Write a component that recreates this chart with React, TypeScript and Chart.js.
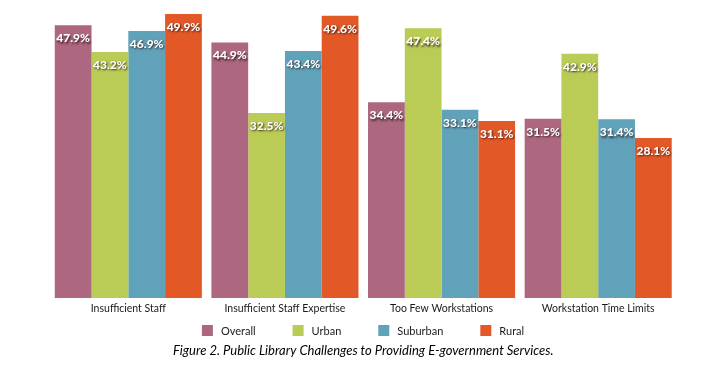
import React, { useEffect, useRef } from "react";
import { Chart, registerables } from "chart.js";
Chart.register(...registerables);

const categories = [
  "Insufficient Staff",
  "Insufficient Staff Expertise",
  "Too Few Workstations",
  "Workstation Time Limits",
];
const seriesNames = ["Overall", "Urban", "Suburban", "Rural"];
const overall = [47.9, 44.9, 34.4, 31.5];
const urban = [43.2, 32.5, 47.4, 42.9];
const suburban = [46.9, 43.4, 33.1, 31.4];
const rural = [49.9, 49.6, 31.1, 28.1];
const seriesColors = ["#AD6780", "#BACB56", "#5FA2BA", "#E35827"];
const captionText =
  "Figure 2. Public Library Challenges to Providing E-government Services.";
const yMin = 0;
const yMax = 50;

const FONT = "Lato, 'DejaVu Sans', sans-serif";

const valueLabels = {
  id: "valueLabels",
  afterDatasetsDraw(chart: any) {
    const ctx = chart.ctx;
    ctx.save();
    ctx.font = `900 12px ${FONT}`;
    ctx.textAlign = "center";
    ctx.textBaseline = "middle";
    ctx.fillStyle = "#ffffff";
    ctx.shadowColor = "rgba(45,20,20,0.85)";
    ctx.shadowOffsetX = 1;
    ctx.shadowOffsetY = 1.5;
    ctx.shadowBlur = 2;
    chart.data.datasets.forEach((ds: any, di: number) => {
      const meta = chart.getDatasetMeta(di);
      meta.data.forEach((el: any, i: number) => {
        const v = ds.data[i];
        ctx.fillText(v.toFixed(1) + "%", el.x, el.y + 13);
      });
    });
    ctx.restore();
  },
};

const customLegend = {
  id: "customLegend",
  afterDraw(chart: any) {
    const ctx = chart.ctx;
    ctx.save();
    ctx.font = `11px ${FONT}`;
    ctx.textBaseline = "middle";
    ctx.textAlign = "left";
    const box = 11;
    const gap = 8;
    const itemGap = 37;
    const widths = seriesNames.map((n) => box + gap + ctx.measureText(n).width);
    const total = widths.reduce((a, b) => a + b, 0) + itemGap * (widths.length - 1);
    let x = (chart.width - total) / 2;
    const yc = chart.height - 37.5;
    seriesNames.forEach((n, i) => {
      ctx.fillStyle = seriesColors[i];
      ctx.fillRect(x, yc - box / 2, box, box);
      ctx.fillStyle = "#1a1a1a";
      ctx.fillText(n, x + box + gap, yc + 0.5);
      x += widths[i] + itemGap;
    });
    ctx.restore();
  },
};

export default function App() {
  const ref = useRef<HTMLCanvasElement | null>(null);
  useEffect(() => {
    if (!ref.current) return;
    const series = [overall, urban, suburban, rural];
    const chart = new Chart(ref.current, {
      type: "bar",
      data: {
        labels: categories,
        datasets: series.map((d, i) => ({
          label: seriesNames[i],
          data: d,
          backgroundColor: seriesColors[i],
          borderWidth: 0,
          barPercentage: 1,
          categoryPercentage: 0.939,
        })),
      },
      options: {
        animation: false,
        responsive: true,
        maintainAspectRatio: false,
        layout: { padding: { left: 42, right: 41.5, top: 5.4, bottom: 0 } },
        scales: {
          x: {
            grid: { display: false, drawTicks: false },
            border: { display: false },
            ticks: {
              font: { family: FONT, size: 10.5 },
              color: "#1a1a1a",
              padding: 4,
              autoSkip: false,
              maxRotation: 0,
            },
          },
          y: { display: false, min: yMin, max: yMax },
        },
        plugins: {
          legend: { display: false },
          tooltip: { enabled: false },
          title: {
            display: true,
            position: "bottom",
            text: captionText,
            color: "#000000",
            font: { family: FONT, size: 13, style: "italic", weight: "normal" },
            padding: { top: 24.5, bottom: 9.2 },
          },
        },
      },
      plugins: [valueLabels, customLegend],
    });
    return () => chart.destroy();
  }, []);
  return (
    <div style={{ width: 710, height: 360, position: "relative" }}>
      <canvas ref={ref} />
    </div>
  );
}
